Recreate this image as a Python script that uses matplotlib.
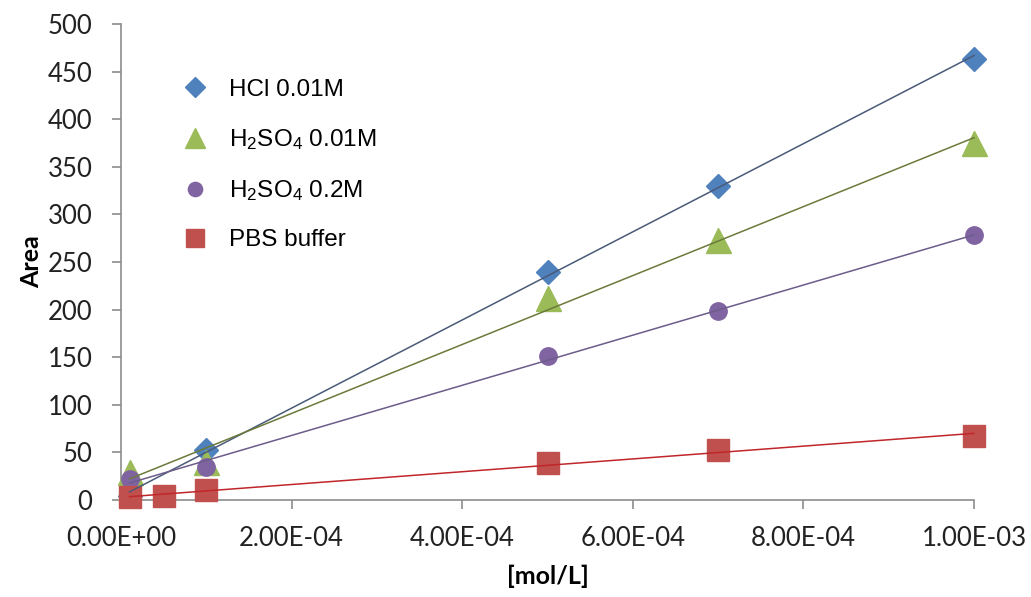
import numpy as np
import matplotlib
matplotlib.use('Agg')
import matplotlib.pyplot as plt
from matplotlib.ticker import FuncFormatter, MultipleLocator
from matplotlib.lines import Line2D

plt.rcParams['mathtext.fontset'] = 'custom'
plt.rcParams['mathtext.rm'] = 'Liberation Sans'
plt.rcParams['mathtext.default'] = 'rm'

# concentrations [mol/L]
conc = [1e-5, 1e-4, 5e-4, 7e-4, 1e-3]
conc_pbs = [1e-5, 5e-5, 1e-4, 5e-4, 7e-4, 1e-3]

# peak areas
hcl_001 = [4, 52, 240, 330, 463]
h2so4_001 = [29, 40, 212, 273, 375]
h2so4_02 = [22, 35, 151, 198, 278]
pbs = [3, 4.5, 10, 38.5, 52, 67.5]

labels = ['HCl 0.01M', r'H$_2$SO$_4$ 0.01M', r'H$_2$SO$_4$ 0.2M', 'PBS buffer']

series = [
    # x, y, marker, size, face colour, trendline colour
    (conc, hcl_001, 'D', 12, '#4F81BD', '#4A5A78'),
    (conc, h2so4_001, '^', 18, '#9BBB59', '#6B7A3A'),
    (conc, h2so4_02, 'o', 12.5, '#8064A2', '#6C5C8A'),
    (conc_pbs, pbs, 's', 15.5, '#C0504D', '#C0262A'),
]

fig = plt.figure(figsize=(10.31, 5.97), dpi=100)
ax = fig.add_axes([0.1174, 0.1625, 0.8273, 0.7973])

for x, y, mk, ms, fc, lc in series:
    ax.plot(x, y, linestyle='none', marker=mk, markersize=ms,
            markerfacecolor=fc, markeredgecolor=fc, zorder=3, clip_on=False)

# linear trendlines (Excel style), drawn over the markers
for x, y, mk, ms, fc, lc in series:
    k, b = np.polyfit(x, y, 1)
    xs = np.array([min(x), max(x)])
    ax.plot(xs, k * xs + b, color=lc, linewidth=1.1, zorder=4, clip_on=False)

ax.set_xlim(0, 1e-3)
ax.set_ylim(0, 500)
ax.xaxis.set_major_locator(MultipleLocator(2e-4))
ax.yaxis.set_major_locator(MultipleLocator(50))
ax.xaxis.set_major_formatter(FuncFormatter(lambda v, p: f'{v:.2E}'))

for s in ['top', 'right']:
    ax.spines[s].set_visible(False)
for s in ['left', 'bottom']:
    ax.spines[s].set_color('#8C8C8C')
    ax.spines[s].set_linewidth(1.2)
    ax.spines[s].set_zorder(2)
ax.tick_params(axis='both', direction='out', length=6.5, width=1.2,
               color='#8C8C8C', labelsize=18.5, labelcolor='#222222')
ax.tick_params(axis='y', pad=14)
ax.tick_params(axis='x', pad=12)
for t in ax.get_xticklabels() + ax.get_yticklabels():
    t.set_family('Lato')

ax.set_xlabel('[mol/L]', fontsize=18, fontweight='bold', family='Lato', labelpad=10)
ax.set_ylabel('Area', fontsize=18, fontweight='bold', family='Lato', labelpad=3)

handles = [Line2D([], [], linestyle='none', marker=mk, markersize=ms * 0.82,
                  markerfacecolor=fc, markeredgecolor=fc)
           for x, y, mk, ms, fc, lc in series]
fig.legend(handles, labels, loc='upper left', bbox_to_anchor=(0.177, 0.868),
           frameon=False, borderpad=0, borderaxespad=0, handlelength=1.0,
           handletextpad=0.9, labelspacing=1.08,
           prop={'family': 'Liberation Sans', 'size': 17.5})

fig.savefig('out.png', dpi=100)
